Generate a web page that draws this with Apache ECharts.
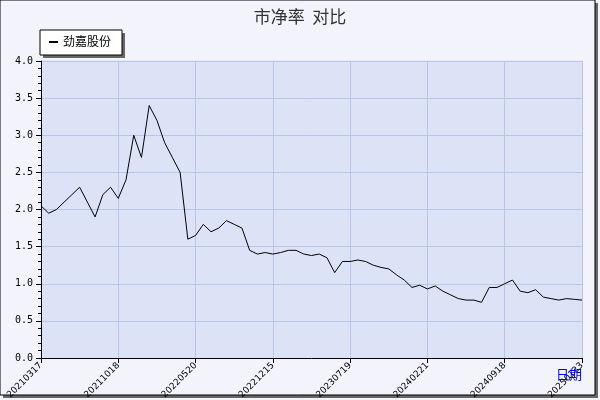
<!DOCTYPE html><html><head><meta charset="utf-8"><script src="https://cdn.jsdelivr.net/npm/echarts@6/dist/echarts.min.js"></script>
<style>body{margin:0;background:#fff}#c{width:600px;height:400px}</style></head><body><div id="c"></div><script>
const labelDates=['20210317','20211018','20220520','20221215','20230719','20240221','20240918','20250123'];
const values=[2.05,1.95,2.0,2.1,2.2,2.3,2.1,1.9,2.2,2.3,2.15,2.4,3.0,2.7,3.4,3.2,2.9,2.7,2.5,1.6,1.65,1.8,1.7,1.75,1.85,1.8,1.75,1.45,1.4,1.42,1.4,1.42,1.45,1.45,1.4,1.38,1.4,1.35,1.15,1.3,1.3,1.32,1.3,1.25,1.22,1.2,1.12,1.05,0.95,0.98,0.93,0.97,0.9,0.85,0.8,0.78,0.78,0.75,0.95,0.95,1.0,1.05,0.9,0.88,0.92,0.82,0.8,0.78,0.8,0.79,0.78];
const cats=values.map((v,i)=>i%10===0?labelDates[i/10]:' '+i);
const ch=echarts.init(document.getElementById('c'));
ch.setOption({backgroundColor:'#f3f3fb',animation:false,
graphic:[{type:'rect',shape:{x:3,y:3,width:595,height:395},style:{fill:'#666'},z:-10},
{type:'rect',shape:{x:0,y:0,width:595,height:395},style:{fill:'#f3f3fb',stroke:'#000',lineWidth:1},z:-9},
{type:'rect',shape:{x:43,y:33,width:82,height:25},style:{fill:'#666'},z:10},
{type:'rect',shape:{x:40,y:30,width:82,height:25},style:{fill:'#fff',stroke:'#000'},z:11},
{type:'rect',shape:{x:49,y:41,width:9,height:2},style:{fill:'#000'},z:12},
{type:'text',x:63,y:35,style:{text:'劲嘉股份',font:'12px "Noto Sans CJK SC"',fill:'#000'},z:12},
{type:'text',x:556,y:368,style:{text:'日期',font:'13px "Noto Sans CJK SC"',fill:'#0000ff'},z:12}],
title:{text:'市净率  对比',left:'center',top:3,textStyle:{fontSize:17,fontWeight:'normal',color:'#333',fontFamily:'Noto Sans CJK SC'}},
grid:{left:41,right:18,top:61,bottom:42,outerBoundsMode:'none',containLabel:false,show:true,backgroundColor:'#dce3f6',borderColor:'#dce3f6'},
xAxis:{type:'category',data:cats,boundaryGap:false,
axisLine:{lineStyle:{color:'#000'}},axisTick:{interval:9,length:5,lineStyle:{color:'#000'}},
axisLabel:{interval:9,rotate:45,fontSize:9,color:'#000',fontFamily:'DejaVu Sans',margin:6,formatter:v=>v.startsWith(' ')?'':v},
splitLine:{show:true,interval:9,lineStyle:{color:'#b8c6ea'}}},
yAxis:{type:'value',min:0,max:4,interval:0.5,
axisLine:{show:true,lineStyle:{color:'#000'}},axisTick:{show:true,length:5,lineStyle:{color:'#000'}},
minorTick:{show:true,splitNumber:5,length:3,lineStyle:{color:'#000'}},
axisLabel:{fontSize:10,color:'#000',fontFamily:'DejaVu Sans Mono',formatter:v=>v.toFixed(1)},
splitLine:{lineStyle:{color:'#b8c6ea'}}},
series:[{type:'line',data:values,showSymbol:false,lineStyle:{color:'#000',width:1}}]});
</script></body></html>
